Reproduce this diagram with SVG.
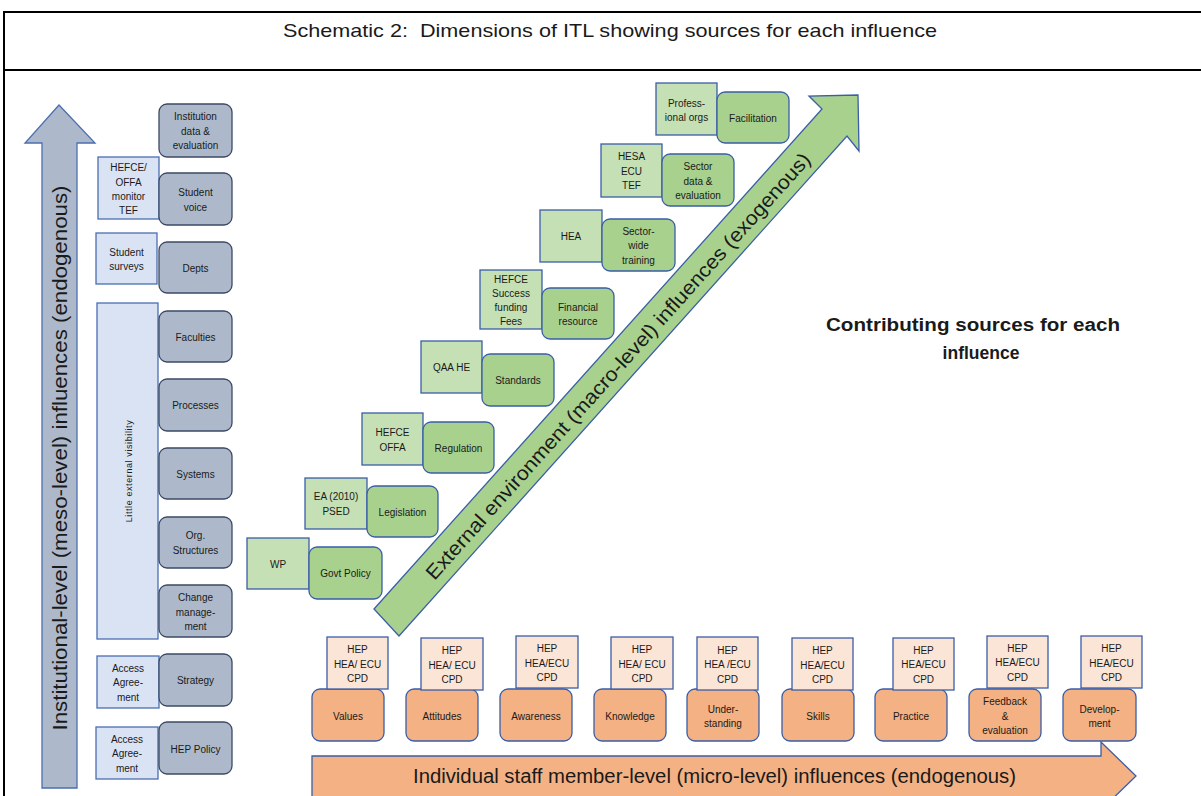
<svg xmlns="http://www.w3.org/2000/svg" width="1201" height="796" viewBox="0 0 1201 796">
<style>
text{font-family:"Liberation Sans",Arial,sans-serif;fill:#1a1a1a;text-anchor:middle;dominant-baseline:central}
.s{font-size:10px}
.big{font-size:20px}
.g{fill:#adb9ca;stroke:#3b4a66;stroke-width:1.3}
.lb{fill:#dae3f3;stroke:#4a6fb0;stroke-width:1.3}
.gs{fill:#c5e0b4;stroke:#3a5ea8;stroke-width:1.3}
.gi{fill:#a9d18e;stroke:#3a5ea8;stroke-width:1.3}
.os{fill:#fbe5d6;stroke:#3a5ea8;stroke-width:1.3}
.oi{fill:#f4b183;stroke:#3a5ea8;stroke-width:1.3}
</style>
<rect width="1201" height="796" fill="#fff"/>
<g id="frame" stroke="#000" stroke-width="2" fill="none">
<line x1="4" y1="12" x2="1201" y2="12"/>
<line x1="4" y1="70" x2="1201" y2="70"/>
<line x1="4" y1="11" x2="4" y2="796"/>
</g>
<g id="title"><text x="610" y="30" font-size="18.5" xml:space="preserve" textLength="654" lengthAdjust="spacingAndGlyphs">Schematic 2:  Dimensions of ITL showing sources for each influence</text></g>

<g id="connectors">
<g id="meso-arrow">
<polygon points="59,105 95,143 77,143 77,788 42,788 42,143 25,143" fill="#adb9ca" stroke="#4a6fb0" stroke-width="1.3"/>
<text class="big" transform="translate(60,458) rotate(-90)" textLength="545" lengthAdjust="spacingAndGlyphs">Institutional-level (meso-level) influences (endogenous)</text>
</g>
<g id="macro-arrow">
<polygon points="374,609 822,109 809,96 858,95 859,151 847,136 399,636" fill="#a9d18e" stroke="#3a5ea8" stroke-width="1.3"/>
<text class="big" transform="translate(618,366) rotate(-48.1)" textLength="565" lengthAdjust="spacingAndGlyphs">External environment (macro-level) influences (exogenous)</text>
</g>
<g id="micro-arrow">
<polygon points="312,756 1101,756 1101,742 1136,776 1101,810 1101,797 312,797" fill="#f4b183" stroke="#3a5ea8" stroke-width="1.3"/>
<text class="big" x="714.5" y="776" textLength="603" lengthAdjust="spacingAndGlyphs">Individual staff member-level (micro-level) influences (endogenous)</text>
</g>
</g>

<g id="contributing"><text font-weight="bold" font-size="17.5" x="973" y="325" textLength="294" lengthAdjust="spacingAndGlyphs">Contributing sources for each</text><text font-weight="bold" font-size="17.5" x="981" y="353">influence</text></g>

<!-- meso sources -->
<g id="src-hefce-offa-tef"><rect class="lb" x="98" y="157" width="61" height="62"/><text class="s" x="128.5" y="167">HEFCE/</text><text class="s" x="128.5" y="182">OFFA</text><text class="s" x="128.5" y="196.5">monitor</text><text class="s" x="128.5" y="210.5">TEF</text></g>
<g id="src-student-surveys"><rect class="lb" x="96" y="233" width="61" height="51"/><text class="s" x="126.5" y="252">Student</text><text class="s" x="126.5" y="266">surveys</text></g>
<g id="src-little-visibility"><rect class="lb" x="97" y="303" width="61" height="336"/><text font-size="9" letter-spacing="0.6" transform="translate(129,471) rotate(-90)">Little external visibility</text></g>
<g id="src-access-1"><rect class="lb" x="97" y="656" width="62" height="52"/><text class="s" x="128" y="668">Access</text><text class="s" x="128" y="682">Agree-</text><text class="s" x="128" y="697">ment</text></g>
<g id="src-access-2"><rect class="lb" x="96" y="727" width="62" height="52"/><text class="s" x="127" y="739">Access</text><text class="s" x="127" y="753">Agree-</text><text class="s" x="127" y="768">ment</text></g>

<!-- meso influences -->
<g id="inst-data"><rect class="g" x="159" y="104" width="73" height="53" rx="8"/><text class="s" x="195.5" y="116.5">Institution</text><text class="s" x="195.5" y="131">data &amp;</text><text class="s" x="195.5" y="145">evaluation</text></g>
<g id="student-voice"><rect class="g" x="159" y="173" width="73" height="52" rx="8"/><text class="s" x="195.5" y="192">Student</text><text class="s" x="195.5" y="207">voice</text></g>
<g id="depts"><rect class="g" x="159" y="242" width="73" height="51" rx="8"/><text class="s" x="195.5" y="268">Depts</text></g>
<g id="faculties"><rect class="g" x="159" y="311" width="73" height="51" rx="8"/><text class="s" x="195.5" y="337">Faculties</text></g>
<g id="processes"><rect class="g" x="159" y="379" width="73" height="52" rx="8"/><text class="s" x="195.5" y="405">Processes</text></g>
<g id="systems"><rect class="g" x="159" y="448" width="73" height="51" rx="8"/><text class="s" x="195.5" y="474">Systems</text></g>
<g id="org-structures"><rect class="g" x="159" y="517" width="73" height="51" rx="8"/><text class="s" x="195.5" y="535">Org.</text><text class="s" x="195.5" y="550">Structures</text></g>
<g id="change-management"><rect class="g" x="159" y="585" width="73" height="52" rx="8"/><text class="s" x="195.5" y="597">Change</text><text class="s" x="195.5" y="612">manage-</text><text class="s" x="195.5" y="626">ment</text></g>
<g id="strategy"><rect class="g" x="159" y="654" width="73" height="52" rx="8"/><text class="s" x="195.5" y="680">Strategy</text></g>
<g id="hep-policy"><rect class="g" x="159" y="722" width="73" height="52" rx="8"/><text class="s" x="195.5" y="749">HEP Policy</text></g>

<!-- macro sources -->
<g id="src-wp"><rect class="gs" x="247" y="538" width="62" height="51"/><text class="s" x="278" y="564">WP</text></g>
<g id="src-ea"><rect class="gs" x="305" y="478" width="62" height="51"/><text class="s" x="336" y="496">EA (2010)</text><text class="s" x="336" y="511">PSED</text></g>
<g id="src-hefce-offa"><rect class="gs" x="362" y="413" width="61" height="52"/><text class="s" x="392.5" y="432">HEFCE</text><text class="s" x="392.5" y="447">OFFA</text></g>
<g id="src-qaa"><rect class="gs" x="421" y="341" width="61" height="52"/><text class="s" x="451.5" y="367">QAA HE</text></g>
<g id="src-hefce-funding"><rect class="gs" x="480" y="270" width="62" height="59"/><text class="s" x="511" y="279">HEFCE</text><text class="s" x="511" y="293">Success</text><text class="s" x="511" y="307.5">funding</text><text class="s" x="511" y="321.5">Fees</text></g>
<g id="src-hea"><rect class="gs" x="540" y="210" width="62" height="52"/><text class="s" x="571" y="236">HEA</text></g>
<g id="src-hesa"><rect class="gs" x="601" y="144" width="61" height="53"/><text class="s" x="631.5" y="156">HESA</text><text class="s" x="631.5" y="171">ECU</text><text class="s" x="631.5" y="185">TEF</text></g>
<g id="src-prof"><rect class="gs" x="656" y="83" width="61" height="52"/><text class="s" x="686.5" y="103">Profess-</text><text class="s" x="686.5" y="117">ional orgs</text></g>

<!-- macro influences -->
<g id="govt-policy"><rect class="gi" x="309" y="547" width="73" height="52" rx="8"/><text class="s" x="345.5" y="573">Govt Policy</text></g>
<g id="legislation"><rect class="gi" x="367" y="486" width="71" height="51" rx="8"/><text class="s" x="402.5" y="512">Legislation</text></g>
<g id="regulation"><rect class="gi" x="423" y="422" width="71" height="51" rx="8"/><text class="s" x="458.5" y="448">Regulation</text></g>
<g id="standards"><rect class="gi" x="482" y="354" width="72" height="52" rx="8"/><text class="s" x="518" y="380">Standards</text></g>
<g id="financial"><rect class="gi" x="542" y="288" width="72" height="51" rx="8"/><text class="s" x="578" y="307">Financial</text><text class="s" x="578" y="321">resource</text></g>
<g id="sector-training"><rect class="gi" x="602" y="219" width="73" height="52" rx="8"/><text class="s" x="638.5" y="231">Sector-</text><text class="s" x="638.5" y="245">wide</text><text class="s" x="638.5" y="260">training</text></g>
<g id="sector-data"><rect class="gi" x="662" y="154" width="72" height="52" rx="8"/><text class="s" x="698" y="166">Sector</text><text class="s" x="698" y="181">data &amp;</text><text class="s" x="698" y="195">evaluation</text></g>
<g id="facilitation"><rect class="gi" x="717" y="92" width="72" height="51" rx="8"/><text class="s" x="753" y="118">Facilitation</text></g>

<!-- micro influences -->
<g id="values"><rect class="oi" x="312" y="689" width="72" height="52" rx="8"/><text class="s" x="348" y="716">Values</text></g>
<g id="attitudes"><rect class="oi" x="406" y="689" width="72" height="52" rx="8"/><text class="s" x="442" y="716">Attitudes</text></g>
<g id="awareness"><rect class="oi" x="500" y="689" width="72" height="52" rx="8"/><text class="s" x="536" y="716">Awareness</text></g>
<g id="knowledge"><rect class="oi" x="594" y="689" width="72" height="52" rx="8"/><text class="s" x="630" y="716">Knowledge</text></g>
<g id="understanding"><rect class="oi" x="687" y="689" width="72" height="52" rx="8"/><text class="s" x="723" y="709">Under-</text><text class="s" x="723" y="723">standing</text></g>
<g id="skills"><rect class="oi" x="782" y="689" width="72" height="52" rx="8"/><text class="s" x="818" y="716">Skills</text></g>
<g id="practice"><rect class="oi" x="875" y="689" width="72" height="52" rx="8"/><text class="s" x="911" y="716">Practice</text></g>
<g id="feedback"><rect class="oi" x="969" y="689" width="72" height="52" rx="8"/><text class="s" x="1005" y="701">Feedback</text><text class="s" x="1005" y="716">&amp;</text><text class="s" x="1005" y="730">evaluation</text></g>
<g id="development"><rect class="oi" x="1063" y="689" width="73" height="52" rx="8"/><text class="s" x="1099.5" y="709">Develop-</text><text class="s" x="1099.5" y="723">ment</text></g>

<!-- micro sources -->
<g id="hep-1"><rect class="os" x="327" y="637" width="61" height="52"/><text class="s" x="357.5" y="649">HEP</text><text class="s" x="357.5" y="664">HEA/ ECU</text><text class="s" x="357.5" y="678">CPD</text></g>
<g id="hep-2"><rect class="os" x="421" y="638" width="62" height="52"/><text class="s" x="452" y="650">HEP</text><text class="s" x="452" y="665">HEA/ ECU</text><text class="s" x="452" y="679">CPD</text></g>
<g id="hep-3"><rect class="os" x="516" y="636" width="62" height="52"/><text class="s" x="547" y="648">HEP</text><text class="s" x="547" y="663">HEA/ECU</text><text class="s" x="547" y="677">CPD</text></g>
<g id="hep-4"><rect class="os" x="611" y="637" width="62" height="52"/><text class="s" x="642" y="649">HEP</text><text class="s" x="642" y="664">HEA/ ECU</text><text class="s" x="642" y="678">CPD</text></g>
<g id="hep-5"><rect class="os" x="697" y="637" width="61" height="53"/><text class="s" x="727.5" y="650">HEP</text><text class="s" x="727.5" y="664">HEA /ECU</text><text class="s" x="727.5" y="679">CPD</text></g>
<g id="hep-6"><rect class="os" x="792" y="638" width="61" height="52"/><text class="s" x="822.5" y="650">HEP</text><text class="s" x="822.5" y="665">HEA/ECU</text><text class="s" x="822.5" y="679">CPD</text></g>
<g id="hep-7"><rect class="os" x="893" y="638" width="61" height="52"/><text class="s" x="923.5" y="650">HEP</text><text class="s" x="923.5" y="664">HEA/ECU</text><text class="s" x="923.5" y="679">CPD</text></g>
<g id="hep-8"><rect class="os" x="987" y="636" width="61" height="52"/><text class="s" x="1017.5" y="648">HEP</text><text class="s" x="1017.5" y="662">HEA/ECU</text><text class="s" x="1017.5" y="677">CPD</text></g>
<g id="hep-9"><rect class="os" x="1081" y="636" width="61" height="52"/><text class="s" x="1111.5" y="648">HEP</text><text class="s" x="1111.5" y="663">HEA/ECU</text><text class="s" x="1111.5" y="677">CPD</text></g>
</svg>
